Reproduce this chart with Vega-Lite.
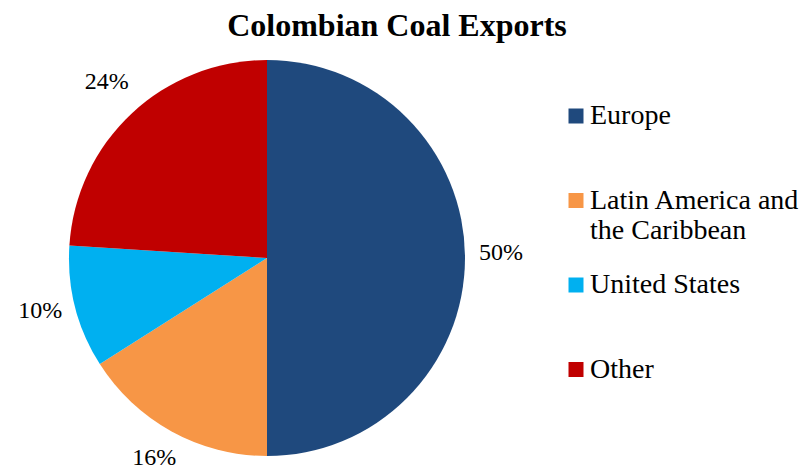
{
  "$schema": "https://vega.github.io/schema/vega-lite/v6.json",
  "autosize": {"type": "none"},
  "padding": {"left": 0, "top": 44, "right": 278, "bottom": 0},
  "width": 534,
  "height": 428,
  "background": "white",
  "title": {
    "text": "Colombian Coal Exports",
    "font": "Liberation Serif",
    "fontSize": 32,
    "fontWeight": "bold",
    "color": "black",
    "anchor": "middle",
    "frame": "group",
    "baseline": "alphabetic",
    "offset": 7,
    "dx": 130,
    "dy": 31
  },
  "data": {
    "values": [
      {"region": "Europe", "share": 0.50, "idx": 1},
      {"region": "Latin America and the Caribbean", "share": 0.16, "idx": 2},
      {"region": "United States", "share": 0.10, "idx": 3},
      {"region": "Other", "share": 0.24, "idx": 4}
    ]
  },
  "encoding": {
    "theta": {"field": "share", "type": "quantitative", "stack": true},
    "order": {"field": "idx", "type": "quantitative"}
  },
  "layer": [
    {
      "mark": {"type": "arc", "outerRadius": 198, "stroke": null},
      "encoding": {
        "color": {
          "field": "region",
          "type": "nominal",
          "scale": {
            "domain": ["Europe", "Latin America and the Caribbean", "United States", "Other"],
            "range": ["#1F497D", "#F79646", "#00B0F0", "#C00000"]
          },
          "legend": {
            "orient": "none",
            "legendX": 562,
            "legendY": 58,
            "title": null,
            "padding": 0,
            "labelFont": "Liberation Serif",
            "labelFontSize": 28,
            "labelColor": "black",
            "labelLimit": 400,
            "labelOffset": 0,
            "symbolType": "square",
            "symbolSize": 225,
            "symbolStrokeWidth": 0,
            "symbolOpacity": 1,
            "rowPadding": 26.5,
            "labelExpr": "datum.label == 'Latin America and the Caribbean' ? ['Latin America and', 'the Caribbean'] : [datum.label, '']"
          }
        }
      }
    },
    {
      "mark": {"type": "text", "radius": 234, "dy": -5, "font": "Liberation Serif", "fontSize": 24, "color": "black"},
      "encoding": {
        "detail": {"field": "region", "type": "nominal"},
        "text": {"field": "share", "type": "quantitative", "format": ".0%"}
      }
    }
  ]
}
